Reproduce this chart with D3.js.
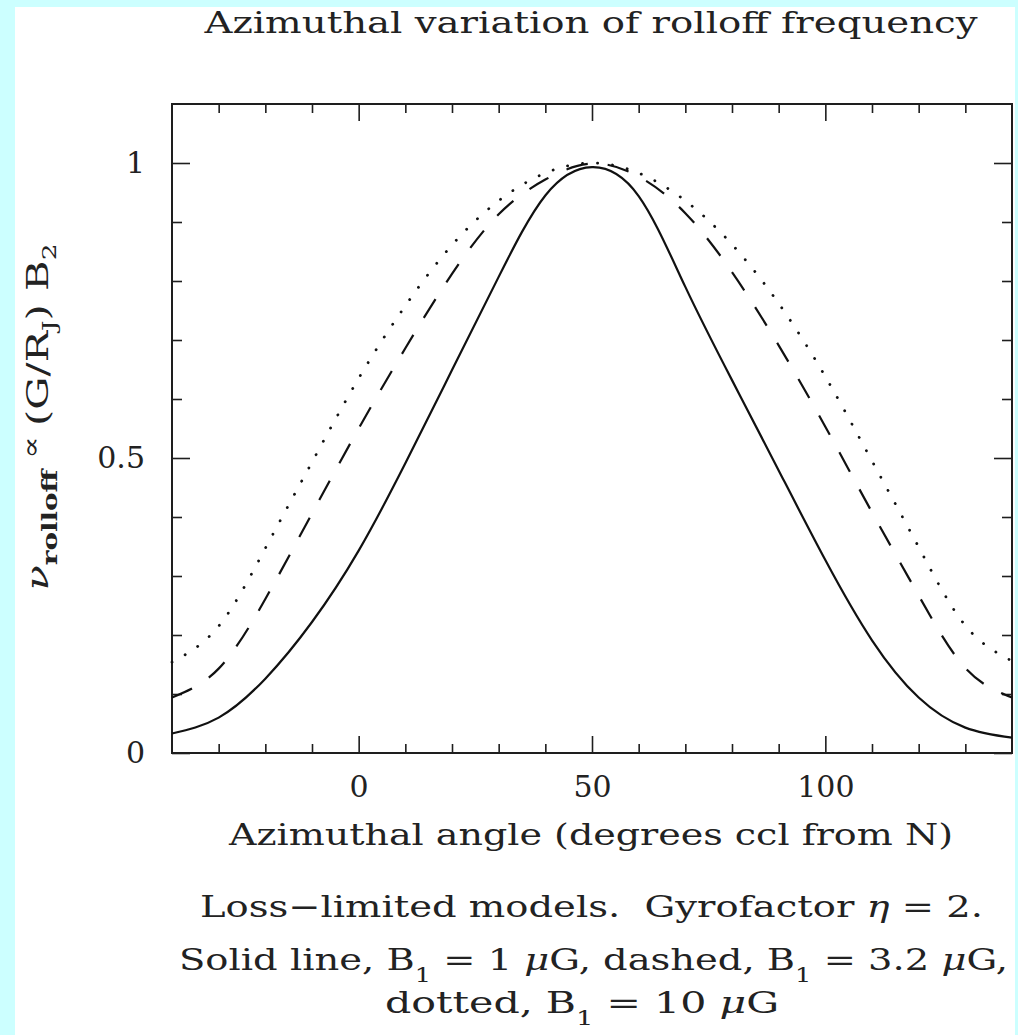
<!DOCTYPE html>
<html>
<head>
<meta charset="utf-8">
<script src="https://cdn.jsdelivr.net/npm/d3@7"></script>
<style>
  html, body { margin: 0; padding: 0; background: #ccffff; }
  svg { display: block; }
  text { font-family: "DejaVu Serif", "Liberation Serif", serif; fill: #222; white-space: pre; }
</style>
</head>
<body>
<svg id="chart" width="1018" height="1035"></svg>
<script>
// Azimuth (degrees counter-clockwise from N)
const angles = [-40, -30, -20, -10, 0, 10, 20, 30, 40, 50, 60, 70, 80, 90, 100, 110, 120, 130, 140];
// Normalised rolloff frequency for the three B1 values
const solidB1_1 = [0.033, 0.060, 0.126, 0.222, 0.343, 0.491, 0.649, 0.807, 0.945, 0.993, 0.944, 0.790, 0.632, 0.479, 0.327, 0.191, 0.094, 0.043, 0.026];
const dashedB1_3_2 = [0.094, 0.143, 0.261, 0.406, 0.550, 0.686, 0.812, 0.913, 0.972, 0.999, 0.977, 0.915, 0.815, 0.691, 0.553, 0.408, 0.267, 0.144, 0.094];
const dottedB1_10 = [0.154, 0.215, 0.347, 0.493, 0.635, 0.758, 0.861, 0.936, 0.983, 1.000, 0.983, 0.936, 0.862, 0.762, 0.638, 0.495, 0.349, 0.216, 0.156];

const xDomain = [-40, 140];
const yDomain = [0, 1.1];
const xMajorTicks = [0, 50, 100];
const xMinorTicks = [-30, -20, -10, 10, 20, 30, 40, 60, 70, 80, 90, 110, 120, 130];
const yMajorTicks = [0, 0.5, 1];
const yMinorTicks = [0.1, 0.2, 0.3, 0.4, 0.6, 0.7, 0.8, 0.9];
const yTickLabels = ["0", "0.5", "1"];

const svg = d3.select("#chart");
const plotL = 172, plotR = 1012, plotT = 104, plotB = 753;

// white sheet on the cyan page
svg.append("rect").attr("x", 15).attr("y", 7).attr("width", 1000).attr("height", 1028).attr("fill", "#ffffff");

const x = d3.scaleLinear().domain(xDomain).range([plotL, plotR]);
const y = d3.scaleLinear().domain(yDomain).range([plotB, plotT]);

const ink = "#1e1e1e";
function styleAxis(g) {
  g.select(".domain").remove();
  g.selectAll(".tick line").attr("stroke", ink).attr("stroke-width", 1.6);
  g.selectAll(".tick text").attr("font-family", "DejaVu Serif").attr("font-size", 30).attr("fill", "#222");
}

// bottom axis
svg.append("g").attr("transform", `translate(0,${plotB})`)
  .call(d3.axisBottom(x).tickValues(xMinorTicks).tickSize(-9).tickFormat("")).call(styleAxis);
svg.append("g").attr("transform", `translate(0,${plotB})`)
  .call(d3.axisBottom(x).tickValues(xMajorTicks).tickSize(-17).tickPadding(23).tickFormat(d3.format("d"))).call(styleAxis);
// top axis (mirror)
svg.append("g").attr("transform", `translate(0,${plotT})`)
  .call(d3.axisTop(x).tickValues(xMinorTicks).tickSize(-9).tickFormat("")).call(styleAxis);
svg.append("g").attr("transform", `translate(0,${plotT})`)
  .call(d3.axisTop(x).tickValues(xMajorTicks).tickSize(-17).tickFormat("")).call(styleAxis);
// left axis
svg.append("g").attr("transform", `translate(${plotL},0)`)
  .call(d3.axisLeft(y).tickValues(yMinorTicks).tickSize(-10).tickFormat("")).call(styleAxis);
svg.append("g").attr("transform", `translate(${plotL},0)`)
  .call(d3.axisLeft(y).tickValues(yMajorTicks).tickSize(-18).tickPadding(27)
    .tickFormat((d, i) => yTickLabels[i])).call(styleAxis);
// right axis (mirror)
svg.append("g").attr("transform", `translate(${plotR},0)`)
  .call(d3.axisRight(y).tickValues(yMinorTicks).tickSize(-10).tickFormat("")).call(styleAxis);
svg.append("g").attr("transform", `translate(${plotR},0)`)
  .call(d3.axisRight(y).tickValues(yMajorTicks).tickSize(-18).tickFormat("")).call(styleAxis);

// frame
svg.append("rect").attr("x", plotL).attr("y", plotT).attr("width", plotR - plotL).attr("height", plotB - plotT)
  .attr("fill", "none").attr("stroke", ink).attr("stroke-width", 2);

// curves
const line = d3.line().x((d, i) => x(angles[i])).y(d => y(d)).curve(d3.curveNatural);
const series = [
  { values: solidB1_1, dash: null, width: 2.2, cap: "butt" },
  { values: dashedB1_3_2, dash: "22,20", width: 2.2, cap: "butt" },
  { values: dottedB1_10, dash: "0.1,15", width: 2.8, cap: "round" }
];
svg.append("g").selectAll("path").data(series).join("path")
  .attr("d", d => line(d.values))
  .attr("fill", "none")
  .attr("stroke", "#111")
  .attr("stroke-width", d => d.width)
  .attr("stroke-linecap", d => d.cap)
  .attr("stroke-dasharray", d => d.dash);

// title
svg.append("text").attr("x", 591).attr("y", 33).attr("text-anchor", "middle")
  .attr("font-size", 30).attr("textLength", 773).attr("lengthAdjust", "spacingAndGlyphs")
  .text("Azimuthal variation of rolloff frequency");

// x-axis title
svg.append("text").attr("x", 591).attr("y", 845).attr("text-anchor", "middle")
  .attr("font-size", 30).attr("textLength", 724).attr("lengthAdjust", "spacingAndGlyphs")
  .text("Azimuthal angle (degrees ccl from N)");

// y-axis title
const yl = svg.append("text").attr("transform", "translate(48,417) rotate(-90)")
  .attr("text-anchor", "middle").attr("font-size", 30)
  .attr("textLength", 347).attr("lengthAdjust", "spacingAndGlyphs");
yl.append("tspan").attr("font-style", "italic").text("ν");
yl.append("tspan").attr("font-size", 20).attr("font-weight", "bold").attr("dy", 9).text("rolloff");
yl.append("tspan").attr("font-size", 24).attr("dy", -18).text(" ∝ ");
yl.append("tspan").attr("dy", 9).text("(G/R");
yl.append("tspan").attr("font-size", 19).attr("dy", 8).text("J");
yl.append("tspan").attr("dy", -8).text(") B");
yl.append("tspan").attr("font-size", 19).attr("dy", 8).text("2");

// caption
const cap1 = svg.append("text").attr("x", 200).attr("y", 917).attr("font-size", 30)
  .attr("textLength", 783).attr("lengthAdjust", "spacingAndGlyphs");
cap1.append("tspan").text("Loss−limited models.  Gyrofactor ");
cap1.append("tspan").attr("font-style", "italic").text("η");
cap1.append("tspan").text(" = 2.");

function bSub(t, label) {
  t.append("tspan").text(label);
  t.append("tspan").attr("font-size", 20).attr("dy", 12).text("1");
}
const cap2 = svg.append("text").attr("x", 179).attr("y", 970).attr("font-size", 30)
  .attr("textLength", 829).attr("lengthAdjust", "spacingAndGlyphs");
bSub(cap2, "Solid line, B");
cap2.append("tspan").attr("dy", -12).text(" = 1 ");
cap2.append("tspan").attr("font-style", "italic").text("μ");
cap2.append("tspan").text("G, dashed, ");
bSub(cap2, "B");
cap2.append("tspan").attr("dy", -12).text(" = 3.2 ");
cap2.append("tspan").attr("font-style", "italic").text("μ");
cap2.append("tspan").text("G,");

const cap3 = svg.append("text").attr("x", 385).attr("y", 1013).attr("font-size", 30)
  .attr("textLength", 394).attr("lengthAdjust", "spacingAndGlyphs");
bSub(cap3, "dotted, B");
cap3.append("tspan").attr("dy", -12).text(" = 10 ");
cap3.append("tspan").attr("font-style", "italic").text("μ");
cap3.append("tspan").text("G");
</script>
</body>
</html>
